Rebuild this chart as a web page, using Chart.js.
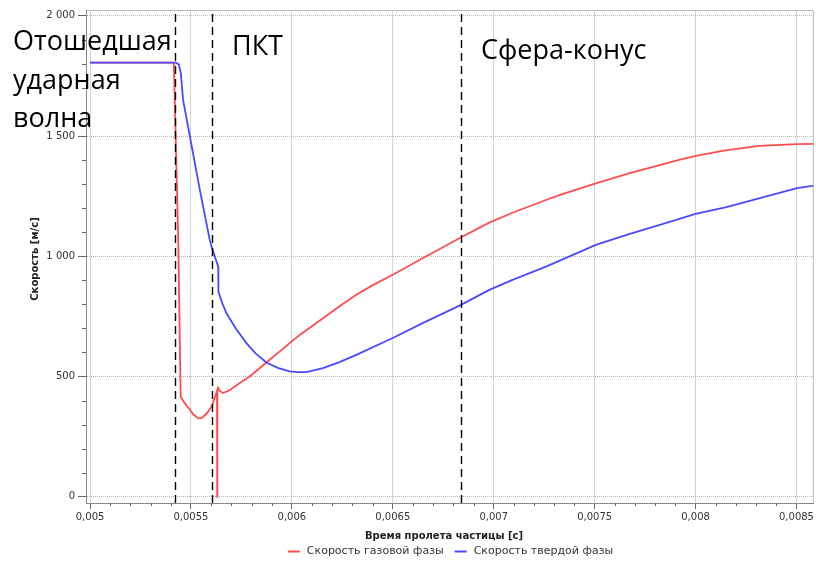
<!DOCTYPE html>
<html><head><meta charset="utf-8">
<script src="https://cdn.jsdelivr.net/npm/chart.js@4/dist/chart.umd.min.js"></script>
<style>html,body{margin:0;padding:0;background:#fff}canvas{display:block}</style>
</head><body>
<canvas id="c" width="816" height="563"></canvas>
<script>
// ---- data ----
const gasTime = [0.005, 0.005415, 0.005437, 0.005449, 0.00546, 0.005475, 0.005495, 0.005511, 0.005536, 0.005554, 0.005577, 0.005602, 0.005623, 0.005629, 0.00563, 0.005631, 0.005635, 0.005643, 0.005659, 0.005692, 0.005742, 0.005791, 0.005874, 0.005989, 0.006039, 0.006154, 0.006236, 0.006319, 0.00641, 0.0065, 0.006648, 0.006846, 0.006978, 0.007093, 0.007259, 0.00734, 0.007506, 0.00767, 0.007918, 0.008, 0.008148, 0.008314, 0.008503, 0.008586];
const gasSpeed = [1805, 1805, 1068, 417, 400, 382, 362, 343, 326, 328, 345, 375, 424, 440, 0, 445, 452, 440, 431, 443, 473, 500, 558, 639, 673, 742, 792, 840, 884, 923, 992, 1082, 1140, 1181, 1234, 1258, 1303, 1345, 1401, 1417, 1440, 1459, 1466, 1467];
const solidTime = [0.005, 0.005425, 0.00544, 0.00545, 0.005461, 0.005495, 0.005544, 0.005593, 0.005602, 0.005635, 0.005636, 0.005655, 0.005676, 0.005722, 0.005775, 0.00582, 0.005874, 0.00593, 0.005989, 0.00603, 0.006072, 0.006154, 0.006236, 0.006319, 0.0065, 0.006648, 0.006838, 0.006978, 0.007093, 0.007259, 0.007506, 0.00767, 0.007819, 0.008, 0.008148, 0.008314, 0.008503, 0.008586];
const solidSpeed = [1805, 1805, 1798, 1760, 1650, 1497, 1276, 1068, 1040, 957, 853, 805, 763, 700, 639, 596, 558, 536, 521, 518, 518, 535, 560, 590, 660, 722, 798, 860, 902, 957, 1047, 1092, 1129, 1176, 1203, 1241, 1283, 1294];
const seriesNames = ['Скорость газовой фазы', 'Скорость твердой фазы'];
const xTickValues = [0.005, 0.0055, 0.006, 0.0065, 0.007, 0.0075, 0.008, 0.0085];
const xTickLabels = ['0,005', '0,0055', '0,006', '0,0065', '0,007', '0,0075', '0,008', '0,0085'];
const yTickValues = [0, 500, 1000, 1500, 2000];
const yTickLabels = ['0', '500', '1 000', '1 500', '2 000'];
const boundaryTimes = [0.00542, 0.005602, 0.006838];
const zoneTexts = [['Отошедшая', 'ударная', 'волна'], ['ПКТ'], ['Сфера-конус']];
const xTitle = 'Время пролета частицы [с]';
const yTitle = 'Скорость [м/с]';

// ---- styling ----
const RED = '#ff4d4d', BLUE = '#4a4aff';
const zonePos = [{x: 13, y: 50, lh: 38.5}, {x: 232, y: 55, lh: 38}, {x: 481, y: 59, lh: 38}];

const decor = {
  id: 'decor',
  afterDatasetsDraw(chart) {
    const ctx = chart.ctx, xs = chart.scales.x, ys = chart.scales.y, a = chart.chartArea;
    ctx.save();
    // frame top/right
    ctx.strokeStyle = '#b8b8b8'; ctx.lineWidth = 1;
    ctx.beginPath();
    ctx.moveTo(a.left, a.top + 0.5); ctx.lineTo(a.right - 0.5, a.top + 0.5); ctx.lineTo(a.right - 0.5, a.bottom);
    ctx.stroke();
    // axis lines (solid)
    ctx.strokeStyle = '#888';
    ctx.beginPath(); ctx.moveTo(a.left + 0.5, a.top); ctx.lineTo(a.left + 0.5, a.bottom + 0.5); ctx.lineTo(a.right, a.bottom + 0.5); ctx.stroke();
    // boundary dashed lines
    ctx.strokeStyle = '#000'; ctx.lineWidth = 1.4; ctx.setLineDash([8, 5]);
    boundaryTimes.forEach(t => {
      const px = Math.round(xs.getPixelForValue(t)) + 0.5;
      ctx.beginPath(); ctx.moveTo(px, a.top + 4); ctx.lineTo(px, a.bottom + 4); ctx.stroke();
    });
    ctx.setLineDash([]);
    // minor ticks
    ctx.strokeStyle = '#666'; ctx.lineWidth = 1;
    for (let i = 0; i <= 35; i++) {
      if (i % 5 === 0) continue;
      const px = Math.round(xs.getPixelForValue(0.005 + i * 0.0001)) + 0.5;
      ctx.beginPath(); ctx.moveTo(px, a.bottom); ctx.lineTo(px, a.bottom + 3); ctx.stroke();
    }
    for (let v = 0; v <= 2000; v += 100) {
      if (v % 500 === 0) continue;
      const py = Math.round(ys.getPixelForValue(v)) + 0.5;
      ctx.beginPath(); ctx.moveTo(a.left - 4, py); ctx.lineTo(a.left, py); ctx.stroke();
    }
    // zone texts
    ctx.fillStyle = '#000';
    ctx.font = '27px "Open Sans"';
    ctx.textBaseline = 'alphabetic'; ctx.textAlign = 'left';
    zoneTexts.forEach((lines, i) => {
      lines.forEach((s, j) => ctx.fillText(s, zonePos[i].x, zonePos[i].y + j * zonePos[i].lh));
    });
    // axis titles
    ctx.fillStyle = '#222';
    ctx.font = 'bold 10px "DejaVu Sans"';
    ctx.textAlign = 'center'; ctx.textBaseline = 'middle';
    ctx.fillText(xTitle, 444, 536);
    ctx.save(); ctx.translate(35, 259); ctx.rotate(-Math.PI / 2); ctx.fillText(yTitle, 0, 0); ctx.restore();
    // legend
    ctx.font = '11px "DejaVu Sans"'; ctx.fillStyle = '#333'; ctx.textAlign = 'left';
    const colors = [RED, BLUE];
    const w0 = ctx.measureText(seriesNames[0]).width, w1 = ctx.measureText(seriesNames[1]).width;
    const total = 12 + 7 + w0 + 11 + 12 + 7 + w1;
    let lx = 450.5 - total / 2;
    const ly = 551.5;
    [w0, w1].forEach((w, i) => {
      ctx.strokeStyle = colors[i]; ctx.lineWidth = 2;
      ctx.beginPath(); ctx.moveTo(lx, ly); ctx.lineTo(lx + 12, ly); ctx.stroke();
      ctx.fillText(seriesNames[i], lx + 19, ly);
      lx += 19 + w + 11;
    });
    ctx.restore();
  }
};

new Chart(document.getElementById('c'), {
  type: 'line',
  data: {
    datasets: [
      {label: seriesNames[0], order: 1, data: gasTime.map((t, i) => ({x: t, y: gasSpeed[i]})), borderColor: RED, borderWidth: 1.8, pointRadius: 0, tension: 0, fill: false},
      {label: seriesNames[1], order: 0, data: solidTime.map((t, i) => ({x: t, y: solidSpeed[i]})), borderColor: BLUE, borderWidth: 1.8, pointRadius: 0, tension: 0, fill: false}
    ]
  },
  options: {
    responsive: false, animation: false, devicePixelRatio: 1,
    layout: {padding: {left: 0, right: 1, top: 10, bottom: 40}},
    plugins: {legend: {display: false}, tooltip: {enabled: false}},
    scales: {
      x: {
        type: 'linear', min: 0.00498, max: 0.0085856,
        afterBuildTicks: s => { s.ticks = xTickValues.map(v => ({value: v})); },
        afterFit: s => { s.height = 20; },
        ticks: {font: {family: 'DejaVu Sans', size: 10}, color: '#333', padding: 2, maxRotation: 0, autoSkip: false,
                callback: (v, i) => xTickLabels[i]},
        grid: {color: '#d4d4d4', lineWidth: 1, tickLength: 6, tickColor: '#666'},
        border: {color: '#888', width: 1}
      },
      y: {
        type: 'linear', min: -26, max: 2024,
        afterBuildTicks: s => { s.ticks = yTickValues.map(v => ({value: v})); },
        afterFit: s => { s.width = 86; },
        ticks: {font: {family: 'DejaVu Sans', size: 10}, color: '#333', padding: 3, autoSkip: false,
                callback: (v, i) => yTickLabels[i]},
        grid: {color: '#b8b8b8', lineWidth: 1, tickLength: 8, tickColor: '#666', tickBorderDash: []},
        border: {color: '#888', width: 1, dash: [1, 1]}
      }
    }
  },
  plugins: [decor]
});
</script>
</body></html>
